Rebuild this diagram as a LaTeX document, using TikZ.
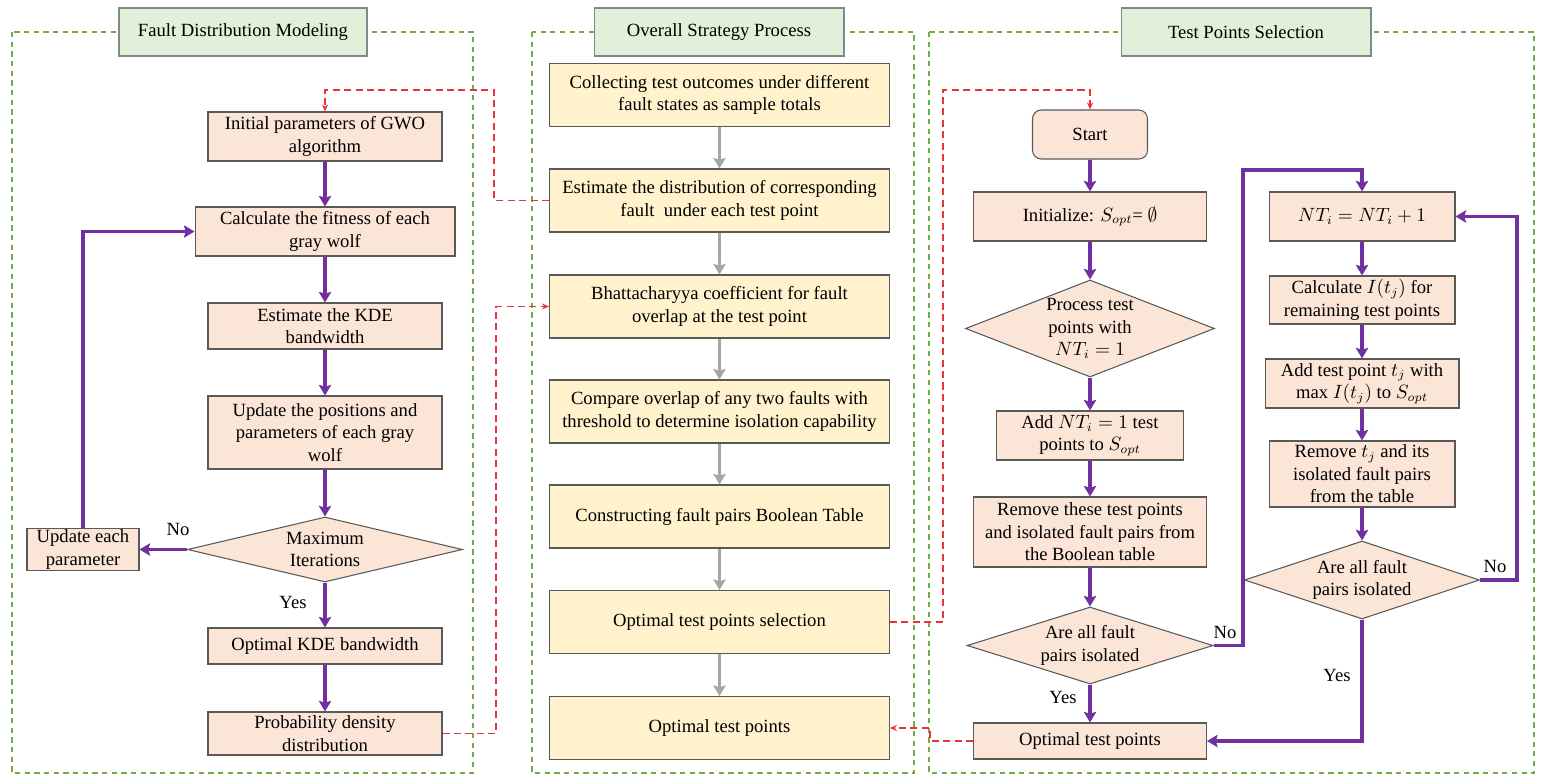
\documentclass[tikz,border=0pt]{standalone}
\usepackage{fontspec}
\setmainfont{Liberation Serif}
\usetikzlibrary{shapes.geometric,arrows.meta}

\definecolor{peach}{HTML}{FBE5D6}
\definecolor{cream}{HTML}{FFF2CC}
\definecolor{palegreen}{HTML}{E2F0D9}
\definecolor{boxgray}{HTML}{595959}
\definecolor{titlegray}{HTML}{7F8A8C}
\definecolor{framegreen}{HTML}{70AD47}
\definecolor{flowviolet}{HTML}{7030A0}
\definecolor{flowgray}{HTML}{A6A6A6}
\definecolor{linkred}{HTML}{E8323C}

\tikzstyle{txt} = [font=\fontsize{10.6}{12.8}\selectfont]
\tikzstyle{sqr} = [txt, rectangle, draw=boxgray, fill=peach, line width=0.6pt, align=center, inner sep=0pt]
\tikzstyle{mid} = [sqr, fill=cream, minimum width=6.8cm, minimum height=1.26cm]
\tikzstyle{dec} = [txt, diamond, draw=boxgray, fill=peach, line width=0.6pt, align=center, inner sep=0pt]
\tikzstyle{ttl} = [txt, rectangle, draw=titlegray, fill=palegreen, line width=0.6pt, minimum width=5cm, minimum height=0.96cm]
\tikzstyle{frame} = [draw=framegreen, dash pattern=on 3pt off 2.5pt, line width=0.6pt]
\tikzstyle{arrow} = [line width=2.2pt, draw=flowviolet, -{Stealth[length=6pt,width=7pt,inset=1pt]}]
\tikzstyle{garrow} = [line width=2pt, draw=flowgray, -{Stealth[length=6pt,width=7pt,inset=1pt]}]
\tikzstyle{link} = [line width=0.9pt, draw=linkred, dash pattern=on 4pt off 2.5pt, -{Stealth[length=4pt,width=3.5pt]}]

\begin{document}
\begin{tikzpicture}[x=0.02cm, y=-0.02cm]
\useasboundingbox (0,0) rectangle (1541,781);

%% Frames
\draw [frame] (12,32) rectangle (473,773);
\draw [frame] (532,32) rectangle (914,773);
\draw [frame] (929,32) rectangle (1534,773);
\node (ttl_fdm) [ttl, minimum width=4.96cm] at (243,32) {Fault Distribution Modeling};
\node (ttl_osp) [ttl] at (719,32) {Overall Strategy Process};
\node (ttl_tps) [ttl] at (1246,32) {Test Points Selection};

%% Fault distribution modeling
\node (ini_fdm) [sqr, minimum width=4.68cm, minimum height=0.98cm] at (325,136.5) {Initial parameters of GWO\\algorithm};
\node (fit_fdm) [sqr, minimum width=5.2cm, minimum height=0.98cm] at (325,231.5) {Calculate the fitness of each\\gray wolf};
\node (kde_fdm) [sqr, minimum width=4.68cm, minimum height=0.92cm] at (325,326) {Estimate the KDE\\bandwidth};
\node (upd_fdm) [sqr, minimum width=4.68cm, minimum height=1.46cm] at (325,432.5) {Update the positions and\\parameters of each gray\\wolf};
\node (max_fdm) [dec, aspect=4.2, minimum width=5.5cm, minimum height=1.3cm] at (325,549.5) {Maximum\\Iterations};
\node (upe_fdm) [sqr, minimum width=2.24cm, minimum height=0.84cm] at (83,549.5) {Update each\\parameter};
\node (okd_fdm) [sqr, minimum width=4.68cm, minimum height=0.72cm] at (325,646) {Optimal KDE bandwidth};
\node (pdd_fdm) [sqr, minimum width=4.68cm, minimum height=0.86cm] at (325,733.5) {Probability density\\distribution};
\node (no_fdm) [txt] at (178,529) {No};
\node (yes_fdm) [txt] at (293,602) {Yes};

%% Overall strategy process
\node (col_osp) [mid] at (719.5,95) {Collecting test outcomes under different\\fault states as sample totals};
\node (est_osp) [mid] at (719.5,200.5) {Estimate the distribution of corresponding\\fault ~under each test point};
\node (bha_osp) [mid] at (719.5,306.5) {Bhattacharyya coefficient for fault\\overlap at the test point};
\node (cmp_osp) [mid] at (719.5,411.5) {Compare overlap of any two faults with\\threshold to determine isolation capability};
\node (con_osp) [mid] at (719.5,516.5) {Constructing fault pairs Boolean Table};
\node (sel_osp) [mid] at (719.5,622) {Optimal test points selection};
\node (opt_osp) [mid] at (719.5,728) {Optimal test points};

%% Test points selection
\node (sta_tps) [sqr, rounded corners=5pt, minimum width=2.3cm, minimum height=0.98cm] at (1090,134.5) {Start};
\node (ini_tps) [sqr, minimum width=4.66cm, minimum height=0.98cm] at (1090,216.5) {Initialize: $S_{opt}$= $\emptyset$};
\node (pro_tps) [dec, aspect=2.57, minimum width=4.98cm, minimum height=1.94cm] at (1090,328.5) {Process test\\points with\\$NT_i = 1$};
\node (add_tps) [sqr, minimum width=3.74cm, minimum height=0.98cm] at (1090,435.5) {Add $NT_i = 1$ test\\points to $S_{opt}$};
\node (rem_tps) [sqr, minimum width=4.66cm, minimum height=1.4cm] at (1090,532) {Remove these test points\\and isolated fault pairs from\\the Boolean table};
\node (are_tps) [dec, aspect=3.2, minimum width=4.92cm, minimum height=1.54cm] at (1090,645.5) {Are all fault\\pairs isolated};
\node (opt_tps) [sqr, minimum width=4.66cm, minimum height=0.72cm] at (1090,741) {Optimal test points};

\node (nti_tps) [sqr, minimum width=3.72cm, minimum height=0.98cm] at (1362,216.5) {$NT_i = NT_i + 1$};
\node (cal_tps) [sqr, minimum width=3.72cm, minimum height=0.96cm] at (1362,300) {Calculate $I(t_j)$ for\\remaining test points};
\node (adt_tps) [sqr, minimum width=3.88cm, minimum height=0.98cm] at (1362,383.5) {Add test point $t_j$ with\\max $I(t_j)$ to $S_{opt}$};
\node (rmt_tps) [sqr, minimum width=3.72cm, minimum height=1.32cm] at (1362,474) {Remove $t_j$ and its\\isolated fault pairs\\from the table};
\node (ar2_tps) [dec, aspect=3.0, minimum width=4.7cm, minimum height=1.56cm] at (1362,580) {Are all fault\\pairs isolated};

\node (yes_tps) [txt] at (1063,697) {Yes};
\node (no_tps) [txt] at (1225,632) {No};
\node (no2_tps) [txt] at (1495,566) {No};
\node (yes2_tps) [txt] at (1337,675) {Yes};

%% Bends
\coordinate (c_loop) at (1243,170);
\coordinate (c_back) at (1517,216.5);
\coordinate (c_ini) at (494,90);
\coordinate (c_pdd) at (496,306.5);
\coordinate (c_sel) at (943,90);
\coordinate (c_opt) at (930,728);

%% Arrows
\draw [arrow] (ini_fdm) -- (fit_fdm);
\draw [arrow] (fit_fdm) -- (kde_fdm);
\draw [arrow] (kde_fdm) -- (upd_fdm);
\draw [arrow] (upd_fdm) -- (max_fdm);
\draw [arrow] (max_fdm) -- (okd_fdm);
\draw [arrow] (okd_fdm) -- (pdd_fdm);
\draw [arrow] (max_fdm.west) -- (upe_fdm.east);
\draw [arrow] (upe_fdm.north) |- (fit_fdm.west);

\draw [garrow] (col_osp) -- (est_osp);
\draw [garrow] (est_osp) -- (bha_osp);
\draw [garrow] (bha_osp) -- (cmp_osp);
\draw [garrow] (cmp_osp) -- (con_osp);
\draw [garrow] (con_osp) -- (sel_osp);
\draw [garrow] (sel_osp) -- (opt_osp);

\draw [arrow] (sta_tps) -- (ini_tps);
\draw [arrow] (ini_tps) -- (pro_tps);
\draw [arrow] (pro_tps) -- (add_tps);
\draw [arrow] (add_tps) -- (rem_tps);
\draw [arrow] (rem_tps) -- (are_tps);
\draw [arrow] (are_tps) -- (opt_tps);
\draw [arrow] (are_tps.east) -| (c_loop) -| (nti_tps.north);
\draw [arrow] (nti_tps) -- (cal_tps);
\draw [arrow] (cal_tps) -- (adt_tps);
\draw [arrow] (adt_tps) -- (rmt_tps);
\draw [arrow] (rmt_tps) -- (ar2_tps);
\draw [arrow] (ar2_tps.east) -| (c_back) -- (nti_tps.east);
\draw [arrow] (ar2_tps.south) |- (opt_tps.east);

\draw [link] (est_osp.west) -| (c_ini) -| (ini_fdm.north);
\draw [link] (pdd_fdm.east) -| (c_pdd) -- (bha_osp.west);
\draw [link] (sel_osp.east) -| (c_sel) -| (sta_tps.north);
\draw [link] (opt_tps.west) -| (c_opt) -- (opt_osp.east);
\end{tikzpicture}
\end{document}
